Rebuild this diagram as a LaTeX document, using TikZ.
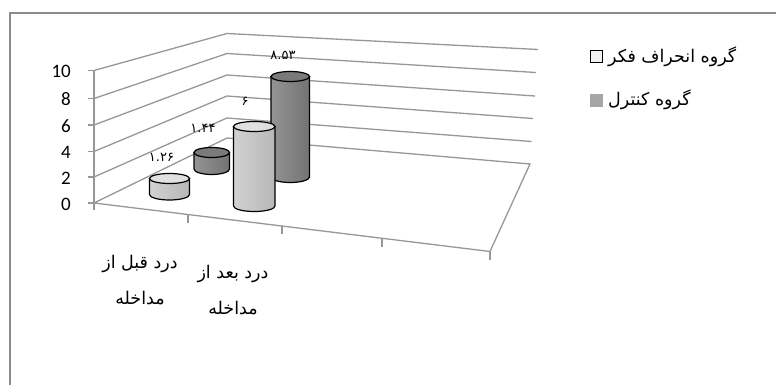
\documentclass[tikz,border=0pt]{standalone}
\usepackage{fontspec}
\usepackage{xcolor}
\setmainfont{Carlito}
\newfontfamily\farsi[Script=Arabic]{DejaVu Sans}
\TeXXeTstate=1
\definecolor{gridgray}{HTML}{979797}
\definecolor{framegray}{HTML}{8C8C8C}
\definecolor{darkfill}{HTML}{A6A6A6}
\definecolor{lightfill}{HTML}{F2F2F2}

% one cylinder: left x, right x, top y, bottom y, kind
\newcommand{\cylbar}[5]{%
  \pgfmathsetmacro\cx{(#1+#2)/2}%
  \pgfmathsetmacro\rx{(#2-#1)/2}%
  \draw[#5body] (#1,#3) -- (#1,#4) arc[start angle=180,end angle=0,x radius=\rx,y radius=5.5] -- (#2,#3) -- cycle;
  \draw[#5top] (\cx,#3) ellipse[x radius=\rx,y radius=5];
}

\begin{document}
\begin{tikzpicture}[x=1pt,y=-1pt,
    grid/.style={draw=gridgray,line width=1.3pt},
    whitebody/.style={draw=black,line width=1.2pt,left color=black!18,middle color=white,right color=black!28},
    whitetop/.style={draw=black,line width=1.2pt,fill=black!12},
    darkbody/.style={draw=black,line width=1.2pt,left color=black!42,middle color=black!30,right color=black!55},
    darktop/.style={draw=black,line width=1.2pt,fill=black!52},
    ticklab/.style={anchor=east,font=\fontsize{19}{22}\selectfont,inner sep=0pt},
    vallab/.style={font=\farsi\fontsize{13}{15}\selectfont,inner sep=0pt},
    catlab/.style={align=center,font=\farsi\fontsize{17.5}{36}\selectfont,inner sep=0pt},
    leglab/.style={anchor=west,font=\farsi\fontsize{17.5}{20}\selectfont,inner sep=0pt}]
\useasboundingbox (0,0) rectangle (776,385);
% frame
\draw[framegray,line width=2pt] (776,13.5) -- (9.5,13.5) -- (9.5,385);
% walls
\coordinate (fl) at (94,203);
\coordinate (fr) at (490,251.5);
\coordinate (br) at (530,164);
\coordinate (bl) at (227,138);
\foreach \yl/\yb/\xr/\yr in {70.5/33.5/538/49.5, 98.5/53.5/536/72.5, 125/75/535/96,
    151.5/96/533/118.5, 177/118/531.5/141.5}{
  \draw[grid] (94,\yl) -- (227,\yb) -- (\xr,\yr);
}
\draw[grid] (fl) -- (bl) -- (br) -- (fr) -- cycle;
\draw[grid] (94,70.5) -- (94,210);
\foreach \y in {70.5,98.5,125,151.5,177,203}{
  \draw[grid] (88,\y) -- (94,\y);
}
\foreach \x/\y in {188/214.5, 282/226, 382/238.5, 490/251.5}{
  \draw[grid] (\x,\y) -- (\x,\y+8);
}
% axis numbers
\foreach \v/\y in {10/71.5, 8/99.5, 6/126, 4/152.5, 2/178, 0/204}{
  \node[ticklab] (t\v) at (71,\y) {\v};
}
% bars
\cylbar{194}{229.5}{152.5}{169}{dark}
\cylbar{271}{309.5}{76.5}{177}{dark}
\cylbar{149.5}{189.5}{178.5}{194.5}{white}
\cylbar{233.5}{275}{126.5}{206}{white}
% values
\node[vallab] (v1) at (161.5,157) {۱.۲۶};
\node[vallab] (v2) at (203,128) {۱.۴۴};
\node[vallab] (v3) at (245,101.5) {۶};
\node[vallab] (v4) at (283,55) {۸.۵۳};
% categories
\node[catlab] (pre) at (140,280) {\beginR درد قبل از\endR\\\beginR مداخله\endR};
\node[catlab] (post) at (233,290.5) {\beginR درد بعد از\endR\\\beginR مداخله\endR};
% legend
\node[draw=black,line width=1.5pt,fill=lightfill,minimum size=12pt,inner sep=0pt] (k1) at (596.5,56.5) {};
\node[fill=darkfill,minimum size=13pt,inner sep=0pt] (k2) at (596,100.5) {};
\node[leglab] (l1) at (608,57) {\beginR گروه انحراف فکر\endR};
\node[leglab] (l2) at (608,100) {\beginR گروه کنترل\endR};
\end{tikzpicture}
\end{document}
